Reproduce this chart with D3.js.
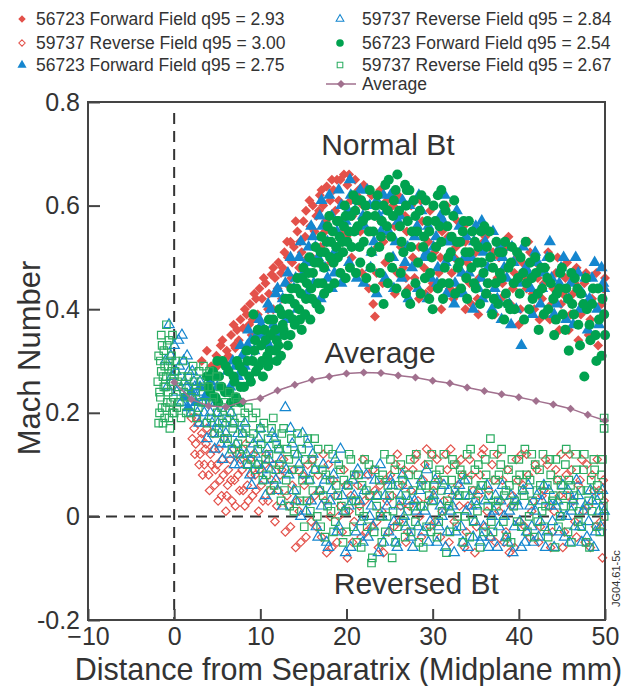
<!DOCTYPE html>
<html><head><meta charset="utf-8">
<script src="https://cdn.jsdelivr.net/npm/d3@7"></script>
<style>
body{margin:0;background:#fff;}
svg text{font-family:"Liberation Sans",Arial,Helvetica,sans-serif;fill:#333;}
</style></head>
<body><svg id="c" width="628" height="686"></svg>
<script>
// ---------- DATA ----------
const xTicks = [-10, 0, 10, 20, 30, 40, 50];
const yTicks = [-0.2, 0, 0.2, 0.4, 0.6, 0.8];
const yTickLabels = ["-0.2", "0", "0.2", "0.4", "0.6", "0.8"];

const seriesNames = [
  "56723 Forward Field q95 = 2.93",
  "59737 Reverse Field q95 = 3.00",
  "56723 Forward Field q95 = 2.75",
  "59737 Reverse Field q95 = 2.84",
  "56723 Forward Field q95 = 2.54",
  "59737 Reverse Field q95 = 2.67",
  "Average"
];

// 56723 Forward Field q95 = 2.93 (filled red diamond)
const fwd293a = [[3.2,.30],[3.8,.32],[4.3,.29],[4.9,.31],[5.4,.33],[5.8,.30],[6.1,.32],[6.6,.35],[7.0,.33],[7.1,.325],[7.3,.36],[7.7,.38],[8.0,.363],[8.4,.39],[8.8,.41],[9.1,.38],[9.5,.42],[9.9,.44],[10.2,.42],[10.6,.45],[11.0,.43],[11.3,.467],[11.7,.46],[12.1,.49],[12.4,.47],[12.8,.51],[13.2,.50],[13.5,.53],[13.9,.52],[14.3,.55],[14.6,.53],[15.0,.57],[15.3,.59],[15.8,.56],[16.1,.60],[16.5,.58],[16.9,.62],[17.3,.60],[17.7,.637],[18.1,.61],[18.5,.63],[18.9,.65],[19.3,.65],[19.7,.66],[20.1,.64],[20.5,.61],[21.0,.65],[21.4,.63],[21.9,.60],[9.0,.35],[11.5,.40],[13.0,.45],[15.5,.50],[17.5,.55],[19.0,.57],[20.0,.54],[22.3,.58],[22.8,.55],[23.1,.41],[23.3,.386],[23.6,.52],[24.0,.57],[24.5,.49],[25.0,.54],[25.4,.60],[25.9,.47],[26.3,.52],[26.8,.58],[27.2,.44],[27.7,.50],[28.1,.55],[28.6,.61],[29.0,.48],[29.5,.53],[30.0,.45],[30.4,.57],[30.9,.50],[31.3,.42],[31.8,.54],[32.2,.47],[32.7,.52],[33.1,.44],[33.6,.56],[34.0,.49],[34.5,.41],[35.0,.51],[35.4,.46],[35.9,.53],[36.3,.43],[36.8,.48],[37.2,.39],[37.7,.50],[38.1,.45],[38.6,.52],[39.0,.41],[39.5,.47],[40.0,.37],[40.4,.49],[40.9,.44],[41.3,.51],[41.8,.40],[42.2,.46],[42.7,.42],[43.1,.48],[43.6,.38],[44.0,.44],[44.5,.50],[44.9,.41],[45.4,.46],[45.8,.36],[46.3,.43],[46.7,.48],[47.2,.39],[47.6,.45],[48.1,.35],[48.5,.42],[49.0,.47],[49.4,.38],[49.8,.44]];
const fwd293b = [[5.0,.29],[5.6,.34],[6.3,.31],[6.9,.37],[7.5,.34],[8.2,.40],[8.7,.37],[9.3,.43],[9.7,.39],[10.4,.46],[10.9,.40],[11.5,.48],[12.0,.44],[12.6,.48],[13.1,.53],[13.7,.49],[14.1,.57],[14.8,.51],[15.2,.54],[15.7,.61],[16.3,.55],[16.8,.59],[17.1,.63],[17.6,.57],[18.3,.65],[18.7,.59],[19.1,.61],[19.5,.55],[20.3,.66],[20.7,.58],[21.2,.62],[21.6,.55],[22.0,.64],[22.5,.60],[22.9,.62],[23.5,.47],[23.9,.63],[24.3,.53],[24.7,.61],[25.2,.50],[25.6,.56],[26.0,.62],[26.6,.48],[27.0,.55],[27.5,.60],[27.9,.46],[28.4,.52],[28.8,.57],[29.2,.43],[29.7,.59],[30.2,.51],[30.7,.47],[31.1,.55],[31.6,.60],[32.0,.44],[32.5,.50],[32.9,.57],[33.4,.47],[33.8,.53],[34.3,.45],[34.7,.55],[35.2,.42],[35.7,.49],[36.1,.54],[36.6,.45],[37.0,.51],[37.5,.46],[37.9,.42],[38.4,.48],[38.8,.54],[39.3,.44],[39.8,.50],[40.2,.40],[40.7,.46],[41.1,.53],[41.6,.43],[42.0,.49],[42.4,.38],[42.9,.45],[43.4,.51],[43.8,.41],[44.3,.47],[44.7,.36],[45.1,.43],[45.6,.49],[46.0,.39],[46.5,.45],[46.9,.34],[47.4,.41],[47.8,.47],[48.3,.38],[48.7,.44],[49.2,.33],[49.6,.41],[50.0,.46]];
const fwd293c = [[12.5,.42],[13.6,.46],[14.5,.48],[16.0,.50],[17.0,.52],[18.2,.49],[19.5,.51],[20.6,.50],[21.8,.47],[22.6,.44],[24.2,.45],[25.6,.43],[26.9,.46],[28.4,.42],[29.8,.44],[31.0,.40],[32.4,.42],[33.8,.40],[35.3,.39]];

// 59737 Reverse Field q95 = 3.00 (open red diamond)
const rev300a = [[2.0,.19],[2.3,.17],[2.5,.14],[2.8,.18],[3.0,.12],[3.2,.16],[3.5,.10],[3.7,.14],[4.0,.08],[4.2,.12],[4.5,.16],[4.7,.06],[5.0,.10],[5.2,.13],[5.5,.04],[5.7,.08],[6.0,.01],[6.2,.06],[6.5,.11],[6.7,.03],[7.0,.07],[7.3,.12],[7.6,.05],[7.9,.09],[8.2,.02],[8.5,.06],[8.8,.11],[9.1,.04],[9.4,.08],[9.8,.01],[10.1,.06],[10.5,.10],[10.9,.03],[11.3,.07],[11.7,-.01],[12.1,.05],[12.5,.09],[12.9,-.03],[13.3,.02],[13.7,.06],[14.1,-.06],[14.5,.01],[14.9,.08],[15.3,-.04],[15.7,.03],[16.1,.11],[16.5,-.02],[16.9,.05],[17.3,.12],[17.7,-.07],[18.1,.00],[18.5,.07],[18.9,-.05],[19.3,.02],[19.7,.09],[20.1,-.08],[20.5,.04],[20.9,-.01],[21.3,.06],[21.7,-.04],[22.1,.03],[22.5,.08],[22.9,-.02],[23.3,.05],[23.7,-.06],[24.1,.01],[24.5,.07],[24.9,-.03],[25.3,.04],[25.7,.10],[26.1,-.01],[26.5,.06],[26.9,-.05],[27.3,.02],[27.7,.09],[28.1,.12],[28.5,.00],[28.9,.07],[29.3,.13],[29.7,-.02],[30.1,.05],[30.5,.11],[30.9,-.04],[31.3,.03],[31.7,.09],[32.1,.13],[32.5,-.01],[32.9,.06],[33.3,.11],[33.7,-.06],[34.1,.02],[34.5,.08],[34.9,-.07],[35.3,.04],[35.7,.12],[36.1,-.02],[36.5,.05],[36.9,.10],[37.3,-.05],[37.7,.01],[38.1,.07],[38.5,-.03],[38.9,-.07],[39.3,.04],[39.7,.11],[40.1,-.01],[40.5,.06],[40.9,.12],[41.3,-.04],[41.7,.03],[42.1,.09],[42.5,-.02],[42.9,.05],[43.3,.10],[43.7,-.06],[44.1,.01],[44.5,.07],[44.9,.12],[45.3,-.03],[45.7,.04],[46.1,.09],[46.5,-.01],[46.9,.06],[47.3,.11],[47.7,-.05],[48.1,.02],[48.5,.08],[48.9,-.02],[49.3,.05],[49.7,-.08],[49.9,.03]];
const rev300b = [[2.1,.15],[2.4,.12],[2.6,.19],[2.9,.10],[3.1,.15],[3.3,.08],[3.6,.13],[3.8,.17],[4.1,.05],[4.3,.10],[4.6,.13],[4.8,.09],[5.1,.03],[5.3,.07],[5.6,.11],[5.8,.15],[6.1,.04],[6.3,.09],[6.6,.07],[6.9,.13],[7.1,.02],[7.4,.08],[7.7,.11],[8.0,.05],[8.3,.14],[8.6,.03],[8.9,.08],[9.2,.12],[9.5,.05],[9.9,.09],[10.3,.03],[10.7,.12],[11.1,.05],[11.5,.10],[11.9,.02],[12.3,.08],[12.7,.11],[13.1,.04],[13.5,-.02],[13.9,.09],[14.3,.03],[14.7,-.05],[15.1,.06],[15.5,.10],[15.9,-.01],[16.3,.04],[16.7,.08],[17.1,-.04],[17.5,.03],[17.9,.10],[18.3,-.06],[18.7,.04],[19.1,.00],[19.5,-.03],[19.9,.06],[20.3,.01],[20.7,-.05],[21.1,.08],[21.5,.02],[21.9,.11],[22.3,-.03],[22.7,.04],[23.1,.09],[23.5,-.01],[23.9,.06],[24.3,-.07],[24.7,.03],[25.1,.08],[25.5,-.02],[25.9,.12],[26.3,.02],[26.7,.09],[27.1,-.03],[27.5,.05],[27.9,.11],[28.3,.03],[28.7,-.04],[29.1,.10],[29.5,.03],[29.9,.12],[30.3,-.01],[30.7,.07],[31.1,.01],[31.5,.12],[31.9,-.05],[32.3,.04],[32.7,.10],[33.1,.02],[33.5,.08],[33.9,-.03],[34.3,.11],[34.7,.05],[35.1,-.02],[35.5,.08],[35.9,.13],[36.3,.01],[36.7,-.04],[37.1,.07],[37.5,.12],[37.9,.03],[38.3,-.05],[38.7,.09],[39.1,.02],[39.5,-.06],[39.9,.07],[40.3,.12],[40.7,-.02],[41.1,.08],[41.5,.01],[41.9,.10],[42.3,-.05],[42.7,.04],[43.1,.11],[43.5,.02],[43.9,-.03],[44.3,.09],[44.7,.04],[45.1,-.06],[45.5,.08],[45.9,.12],[46.3,.03],[46.7,-.04],[47.1,.07],[47.5,.01],[47.9,.10],[48.3,-.06],[48.7,.05],[49.1,.11],[49.5,-.01],[49.8,.07]];

// 56723 Forward Field q95 = 2.75 (filled blue triangle)
const fwd275a = [[1.2,.23],[1.6,.21],[2.0,.24],[2.5,.22],[3.0,.25],[3.6,.23],[4.2,.26],[5.0,.25],[6.2,.28],[6.8,.30],[7.4,.27],[7.9,.31],[8.5,.33],[8.6,.36],[9.0,.30],[9.6,.35],[10.1,.37],[10.7,.34],[11.2,.40],[11.8,.43],[12.3,.40],[12.9,.45],[13.2,.47],[13.9,.44],[14.5,.50],[15.0,.47],[15.6,.52],[16.1,.54],[16.7,.50],[17.1,.61],[17.2,.56],[17.8,.53],[18.3,.44],[18.3,.58],[18.9,.55],[19.4,.60],[19.9,.57],[20.4,.65],[20.5,.62],[21.0,.59],[21.6,.63],[22.1,.56],[22.7,.60],[23.2,.53],[23.8,.58],[24.3,.62],[24.9,.55],[25.4,.50],[26.0,.57],[26.5,.61],[27.1,.52],[27.6,.48],[28.2,.56],[28.7,.59],[29.3,.51],[29.8,.46],[30.4,.54],[30.9,.58],[31.4,.62],[31.5,.49],[32.0,.53],[32.6,.45],[33.1,.56],[33.7,.50],[34.2,.47],[34.8,.53],[35.3,.44],[35.7,.57],[35.9,.51],[36.4,.48],[37.0,.55],[37.5,.42],[38.1,.50],[38.6,.46],[39.2,.52],[39.7,.40],[40.3,.33],[40.8,.48],[41.4,.44],[41.9,.51],[42.5,.41],[43.0,.47],[43.6,.53],[44.1,.39],[44.7,.45],[45.2,.50],[45.8,.42],[46.3,.37],[46.9,.47],[47.4,.43],[48.0,.36],[48.5,.46],[49.1,.40],[49.6,.48],[49.9,.44]];
const fwd275b = [[6.5,.25],[7.1,.29],[7.7,.33],[8.2,.29],[8.9,.34],[9.3,.32],[9.9,.38],[10.4,.35],[10.9,.41],[11.5,.37],[12.0,.44],[12.6,.42],[13.5,.50],[14.1,.46],[14.7,.53],[15.3,.49],[15.9,.56],[16.4,.52],[16.9,.58],[17.5,.48],[18.0,.62],[18.6,.51],[19.1,.63],[19.7,.53],[20.2,.59],[20.8,.55],[21.3,.61],[21.9,.58],[22.4,.63],[22.9,.51],[23.5,.61],[24.0,.55],[24.6,.59],[25.1,.62],[25.7,.53],[26.2,.58],[26.8,.49],[27.3,.60],[27.9,.54],[28.4,.62],[29.0,.50],[29.5,.56],[30.1,.52],[30.6,.48],[31.2,.57],[31.7,.53],[32.3,.50],[32.8,.59],[33.4,.47],[33.9,.54],[34.5,.50],[35.0,.56],[35.6,.46],[36.1,.53],[36.7,.50],[37.2,.44],[37.8,.52],[38.3,.48],[38.9,.41],[39.4,.49],[40.0,.45],[40.5,.52],[41.1,.47],[41.6,.39],[42.2,.49],[42.7,.44],[43.3,.50],[43.8,.46],[44.4,.41],[44.9,.48],[45.5,.38],[46.0,.45],[46.6,.50],[47.1,.40],[47.7,.46],[48.2,.42],[48.8,.49],[49.3,.37],[49.8,.45]];
const fwd275c = [[11.0,.33],[12.2,.35],[13.0,.38],[14.3,.40],[15.4,.43],[16.2,.45],[17.0,.42],[17.8,.46],[18.6,.47],[19.4,.45],[20.3,.49],[21.2,.46],[22.0,.45],[22.8,.48],[23.5,.43],[24.5,.46],[25.5,.44],[26.4,.46],[27.2,.42],[28.3,.44],[29.4,.42],[30.5,.45],[31.6,.43],[32.5,.41],[33.6,.43],[34.7,.40],[35.8,.42],[36.9,.40],[38.0,.38],[39.1,.37]];

// 59737 Reverse Field q95 = 2.84 (open blue triangle)
const rev284a = [[-1.0,.30],[-0.6,.37],[-0.3,.27],[0.0,.33],[0.3,.24],[0.6,.29],[0.9,.35],[1.2,.26],[1.5,.31],[1.8,.22],[2.1,.28],[2.4,.25],[2.7,.20],[3.0,.26],[3.3,.22],[3.6,.18],[3.9,.24],[4.2,.20],[4.5,.16],[4.8,.22],[5.1,.18],[5.4,.14],[5.7,.20],[6.0,.16],[6.4,.12],[6.8,.18],[7.2,.14],[7.6,.10],[8.0,.16],[8.4,.12],[8.8,.08],[9.2,.14],[9.6,.10],[10.0,.17],[10.4,.07],[10.8,.13],[11.2,.09],[11.6,.15],[12.0,.05],[12.4,.11],[12.9,.21],[13.3,.08],[13.7,.14],[14.1,.03],[14.5,.10],[14.9,.16],[15.3,.01],[15.7,.07],[16.1,.12],[16.5,-.02],[16.9,.05],[17.3,.10],[17.7,-.05],[18.1,.03],[18.5,.08],[18.9,-.03],[19.3,.13],[19.7,.01],[20.1,.06],[20.5,-.06],[20.9,.04],[21.3,.09],[21.7,-.01],[22.1,.05],[22.5,-.04],[22.9,.02],[23.3,.07],[23.7,-.07],[24.1,.00],[24.5,.04],[24.9,-.03],[25.3,.06],[25.7,-.05],[26.1,.02],[26.5,.08],[26.9,-.02],[27.3,.03],[27.7,-.06],[28.1,.01],[28.5,.05],[28.9,-.03],[29.3,.09],[29.7,-.01],[30.1,.04],[30.5,-.05],[30.9,.02],[31.3,.06],[31.7,-.03],[32.1,.01],[32.5,-.07],[32.9,.04],[33.3,-.02],[33.7,.07],[34.1,-.06],[34.5,.02],[34.9,-.01],[35.5,-.05],[35.3,.05],[35.7,-.04],[36.1,.03],[36.5,-.06],[36.9,.00],[37.3,.04],[37.7,-.02],[38.1,.06],[38.5,-.04],[38.9,.01],[39.3,-.07],[39.7,.03],[40.1,-.01],[40.5,.05],[40.7,-.05],[40.9,-.03],[41.3,.02],[41.7,-.05],[42.1,.04],[42.5,-.01],[42.9,.06],[43.3,-.03],[43.7,.02],[44.1,-.06],[44.5,.03],[44.9,.00],[45.3,-.04],[45.7,.05],[46.1,.01],[46.5,-.02],[46.9,.04],[47.3,-.05],[47.7,.02],[48.1,-.01],[48.5,.03],[48.9,-.03],[49.3,.01],[49.7,.05]];
const rev284b = [[-0.8,.25],[-0.4,.31],[0.2,.28],[0.5,.34],[0.8,.22],[1.1,.30],[1.4,.25],[1.7,.28],[2.0,.20],[2.3,.26],[2.6,.23],[2.9,.18],[3.2,.24],[3.5,.20],[3.8,.15],[4.1,.22],[4.4,.18],[4.7,.13],[5.0,.20],[5.3,.16],[5.6,.11],[5.9,.18],[6.2,.14],[6.6,.20],[7.0,.10],[7.4,.16],[7.8,.12],[8.2,.18],[8.6,.10],[9.0,.06],[9.4,.12],[9.8,.15],[10.2,.09],[10.6,.04],[11.0,.11],[11.4,.16],[11.8,.07],[12.2,.13],[12.6,.02],[13.0,.09],[13.5,.17],[13.9,.05],[14.3,.12],[14.7,.00],[15.1,.08],[15.5,.14],[15.9,.03],[16.3,.09],[16.7,-.04],[17.1,.02],[17.5,.07],[17.9,-.06],[18.3,.05],[18.7,.11],[19.1,-.02],[19.5,.04],[19.9,-.07],[20.3,.02],[20.7,.07],[21.1,-.03],[21.5,.03],[21.9,-.05],[22.3,.08],[22.7,.00],[23.1,-.02],[23.5,.04],[23.9,.10],[24.3,-.05],[24.7,.02],[25.1,.07],[25.5,-.01],[25.9,-.06],[26.3,.04],[26.7,.00],[27.1,.06],[27.5,-.04],[27.9,.03],[28.3,-.02],[28.7,.07],[29.1,.01],[29.5,-.05],[29.9,.03],[30.3,.07],[30.7,-.02],[31.1,.00],[31.5,-.06],[31.9,.05],[32.3,.02],[32.7,-.03],[33.1,.06],[33.5,-.05],[33.9,.01],[34.3,.04],[34.7,-.04],[35.1,.02],[35.9,-.02],[36.3,.06],[36.7,-.04],[37.1,.01],[37.5,-.06],[37.9,.03],[38.3,.00],[38.7,-.05],[39.1,.04],[39.5,-.02],[39.9,.02],[40.3,-.06],[41.1,.06],[41.5,-.02],[41.9,.01],[42.3,-.04],[42.7,.03],[43.1,-.06],[43.5,.05],[43.9,-.01],[44.3,.02],[44.7,-.03],[45.1,.06],[45.5,.00],[45.9,-.05],[46.3,.03],[46.7,.07],[47.1,-.02],[47.5,.01],[47.9,-.04],[48.3,.05],[48.7,-.06],[49.1,.03],[49.5,-.02],[49.9,.01]];

// 56723 Forward Field q95 = 2.54 (filled green circle)
const fwd254a = [[3.8,.27],[4.0,.25],[4.5,.28],[4.8,.23],[5.0,.30],[5.2,.27],[5.6,.30],[5.9,.24],[6.3,.28],[6.6,.22],[7.0,.26],[7.3,.30],[7.7,.25],[7.7,.22],[8.0,.28],[8.4,.32],[8.7,.27],[9.1,.30],[9.2,.39],[9.4,.34],[9.8,.29],[10.1,.33],[10.5,.36],[10.8,.31],[10.9,.29],[11.0,.38],[11.2,.35],[11.5,.38],[11.9,.30],[11.9,.34],[12.2,.40],[12.6,.37],[12.9,.42],[13.2,.33],[13.3,.39],[13.6,.44],[14.0,.41],[14.3,.46],[14.6,.38],[14.7,.43],[15.0,.48],[15.4,.45],[15.7,.50],[16.0,.42],[16.1,.47],[16.4,.52],[16.8,.49],[17.1,.54],[17.2,.45],[17.5,.51],[17.8,.56],[18.0,.58],[18.2,.53],[18.5,.49],[18.9,.57],[19.0,.50],[19.2,.54],[19.6,.51],[19.8,.60],[19.9,.58],[20.3,.55],[20.6,.52],[20.8,.62],[21.0,.59],[21.3,.56],[21.7,.61],[22.0,.53],[22.4,.58],[22.7,.63],[23.1,.55],[23.4,.60],[23.8,.52],[24.1,.57],[24.5,.64],[24.8,.59],[24.9,.65],[25.2,.54],[25.5,.61],[25.9,.66],[26.2,.56],[26.6,.51],[26.9,.60],[27.0,.63],[27.3,.63],[27.6,.55],[28.0,.58],[28.3,.49],[28.7,.62],[29.0,.54],[29.4,.57],[29.7,.47],[30.1,.60],[30.4,.52],[30.8,.56],[31.0,.63],[31.1,.45],[31.3,.60],[31.5,.59],[31.8,.50],[32.2,.54],[32.5,.61],[32.9,.48],[33.2,.53],[33.6,.57],[33.9,.46],[34.3,.51],[34.6,.55],[35.0,.44],[35.3,.52],[35.7,.49],[36.0,.56],[36.4,.45],[36.7,.50],[37.1,.42],[37.4,.53],[37.8,.47],[38.1,.51],[38.5,.43],[38.8,.48],[39.2,.52],[39.5,.40],[39.9,.46],[40.2,.50],[40.6,.38],[40.9,.45],[41.3,.49],[41.6,.42],[42.0,.47],[42.3,.36],[42.7,.44],[43.0,.48],[43.4,.40],[43.7,.45],[44.1,.35],[44.4,.43],[44.8,.47],[45.1,.39],[45.5,.44],[45.8,.32],[46.2,.41],[46.5,.46],[46.9,.37],[47.2,.43],[47.6,.27],[47.9,.40],[48.3,.34],[48.6,.44],[49.0,.30],[49.3,.38],[49.7,.42],[50.0,.35]];
const fwd254b = [[4.2,.24],[4.6,.27],[5.1,.22],[5.5,.25],[6.0,.29],[6.4,.24],[6.9,.27],[7.2,.23],[7.6,.29],[8.1,.25],[8.5,.30],[8.9,.26],[9.3,.32],[9.7,.36],[10.2,.30],[10.6,.34],[11.1,.32],[11.7,.36],[12.1,.33],[12.5,.39],[12.8,.35],[13.4,.42],[13.8,.38],[14.2,.44],[14.5,.40],[14.9,.46],[15.3,.42],[15.6,.47],[15.9,.44],[16.3,.49],[16.7,.45],[17.0,.51],[17.4,.48],[17.7,.53],[18.1,.50],[18.4,.55],[18.8,.52],[19.1,.57],[19.5,.53],[19.7,.56],[20.1,.53],[20.5,.58],[20.9,.55],[21.2,.61],[21.5,.52],[21.9,.57],[22.2,.60],[22.6,.55],[22.9,.51],[23.3,.58],[23.6,.62],[24.0,.54],[24.3,.60],[24.7,.56],[25.0,.50],[25.4,.58],[25.7,.63],[26.1,.59],[26.4,.53],[26.8,.64],[27.1,.57],[27.5,.52],[27.8,.61],[28.2,.55],[28.5,.59],[28.9,.52],[29.2,.61],[29.6,.55],[29.9,.50],[30.3,.57],[30.6,.62],[31.0,.53],[31.4,.48],[31.7,.56],[32.1,.51],[32.4,.58],[32.8,.53],[33.1,.49],[33.5,.55],[33.8,.51],[34.2,.57],[34.5,.48],[34.9,.53],[35.2,.49],[35.6,.55],[35.9,.47],[36.3,.52],[36.6,.55],[37.0,.48],[37.3,.45],[37.7,.51],[38.0,.46],[38.4,.53],[38.7,.41],[39.1,.49],[39.4,.45],[39.8,.51],[40.1,.43],[40.5,.47],[40.8,.53],[41.2,.40],[41.5,.46],[41.9,.50],[42.2,.43],[42.6,.48],[42.9,.39],[43.3,.46],[43.6,.50],[44.0,.42],[44.3,.38],[44.7,.44],[45.0,.48],[45.4,.36],[45.7,.42],[46.1,.47],[46.4,.39],[46.8,.44],[47.1,.33],[47.5,.41],[47.8,.46],[48.2,.37],[48.5,.41],[48.9,.35],[49.2,.44],[49.6,.31],[49.9,.39]];
const fwd254c = [[9.5,.28],[10.3,.27],[11.0,.30],[11.8,.32],[12.4,.31],[12.7,.36],[13.5,.35],[14.0,.37],[14.8,.36],[15.2,.39],[15.8,.38],[16.5,.41],[16.9,.40],[17.4,.43],[17.9,.44],[18.6,.45],[19.3,.47],[19.9,.46],[20.4,.48],[21.1,.47],[21.6,.49],[22.3,.46],[22.8,.48],[23.3,.44],[23.9,.47],[24.3,.41],[24.8,.45],[25.3,.48],[25.8,.44],[26.3,.47],[26.9,.43],[27.4,.41],[28.0,.45],[28.6,.43],[29.1,.46],[29.6,.42],[30.0,.40],[30.6,.44],[31.2,.42],[31.9,.45],[32.6,.43],[33.3,.44],[34.0,.42],[34.8,.45],[35.5,.41],[36.2,.43],[36.9,.39],[37.6,.41],[38.3,.38],[39.0,.40]];

// 59737 Reverse Field q95 = 2.67 (open green square)
const rev267a = [[-1.8,.18],[-1.7,.24],[-1.6,.30],[-1.5,.35],[-1.4,.21],[-1.3,.27],[-1.2,.32],[-1.1,.19],[-1.0,.25],[-0.9,.37],[-0.8,.22],[-0.7,.29],[-0.6,.34],[-0.5,.17],[-0.4,.26],[-0.3,.31],[-0.2,.20],[-0.1,.23],[0.1,.28],[0.3,.21],[0.5,.25],[0.8,.19],[1.0,.30],[1.3,.23],[1.6,.27],[1.9,.20],[2.2,.29],[2.5,.24],[2.8,.21],[3.1,.26],[3.4,.29],[3.7,.22],[4.0,.25],[4.3,.19],[4.6,.23],[4.9,.27],[5.2,.17],[5.5,.21],[5.8,.15],[6.1,.19],[6.4,.24],[6.7,.13],[7.0,.18],[7.3,.22],[7.6,.12],[7.9,.16],[8.2,.20],[8.5,.10],[8.8,.15],[9.1,.19],[9.4,.09],[9.7,.13],[10.0,.17],[10.3,.07],[10.6,.11],[10.9,.15],[11.2,.05],[11.5,.19],[11.8,.09],[12.1,.13],[12.4,.03],[12.7,.17],[13.0,.07],[13.3,.11],[13.6,.15],[13.9,.01],[14.2,.05],[14.5,.09],[14.8,.13],[15.1,-.02],[15.4,.03],[15.7,.07],[16.0,.11],[16.3,.15],[16.6,.00],[16.9,.05],[17.2,.09],[17.5,-.04],[17.8,.02],[18.1,.07],[18.4,.12],[18.7,-.01],[19.0,.04],[19.3,.09],[19.6,-.05],[19.9,.01],[20.2,.06],[20.5,.11],[20.8,-.02],[21.1,.03],[21.4,.08],[21.7,-.06],[22.0,.00],[22.3,.05],[22.6,.10],[22.9,-.09],[23.2,-.03],[23.5,.02],[23.8,.07],[24.1,-.05],[24.4,.12],[24.7,.00],[25.0,.04],[25.3,-.08],[25.6,.09],[25.9,-.02],[26.2,.03],[26.5,.07],[26.8,-.04],[27.1,.01],[27.4,.11],[27.7,.05],[28.0,-.01],[28.3,.08],[28.6,.02],[28.9,-.06],[29.2,.06],[29.5,.10],[29.8,-.03],[30.1,.03],[30.4,.08],[30.7,-.01],[31.0,.05],[31.3,.12],[31.6,-.07],[31.9,.02],[32.2,.07],[32.5,.10],[32.8,-.02],[33.1,.04],[33.4,.08],[33.7,.00],[34.0,.12],[34.3,-.04],[34.6,.05],[34.9,.09],[35.2,.01],[35.5,-.06],[35.8,.06],[36.1,.11],[36.4,.02],[36.7,.15],[37.0,-.03],[37.3,.07],[37.6,.03],[37.9,.10],[38.2,-.01],[38.5,.05],[38.8,.09],[39.1,-.05],[39.4,.02],[39.7,.07],[40.0,.11],[40.3,-.02],[40.6,.04],[40.9,.08],[41.2,.00],[41.5,.12],[41.8,-.04],[42.1,.05],[42.4,.09],[42.7,.01],[43.0,-.02],[43.3,.06],[43.6,.11],[43.9,.03],[44.2,-.06],[44.5,.07],[44.8,.00],[45.1,.04],[45.4,.10],[45.7,-.03],[46.0,.06],[46.3,.02],[46.6,.12],[46.9,-.01],[47.2,.05],[47.5,.09],[47.8,-.05],[48.1,.03],[48.4,.07],[48.7,.11],[49.0,-.02],[49.3,.04],[49.6,.08],[49.9,.17],[49.9,.19],[49.8,.02]];
const rev267b = [[-1.9,.26],[-1.8,.31],[-1.7,.20],[-1.6,.23],[-1.5,.28],[-1.4,.33],[-1.3,.18],[-1.2,.25],[-1.1,.29],[-1.0,.21],[-0.9,.27],[-0.8,.33],[-0.7,.24],[-0.6,.19],[-0.5,.30],[-0.4,.22],[-0.3,.28],[-0.2,.35],[-0.1,.26],[0.0,.20],[0.2,.30],[0.4,.26],[0.6,.22],[0.9,.27],[1.1,.24],[1.4,.20],[1.7,.25],[2.0,.23],[2.3,.26],[2.6,.19],[2.9,.28],[3.2,.22],[3.5,.25],[3.8,.18],[4.1,.28],[4.4,.22],[4.7,.16],[5.0,.20],[5.3,.25],[5.6,.18],[5.9,.22],[6.2,.15],[6.5,.20],[6.8,.17],[7.1,.23],[7.4,.14],[7.7,.19],[8.0,.13],[8.3,.17],[8.6,.21],[8.9,.11],[9.2,.16],[9.5,.20],[9.8,.10],[10.1,.14],[10.4,.18],[10.7,.08],[11.0,.12],[11.3,.17],[11.6,.06],[11.9,.14],[12.2,.10],[12.5,.16],[12.8,.05],[13.1,.13],[13.4,.02],[13.7,.09],[14.0,.12],[14.3,.16],[14.6,.03],[14.9,.07],[15.2,.11],[15.5,.15],[15.8,.01],[16.1,.05],[16.4,.09],[16.7,.13],[17.0,-.02],[17.3,.04],[17.6,.08],[17.9,.13],[18.2,.01],[18.5,-.03],[18.8,.06],[19.1,.10],[19.4,.02],[19.7,.07],[20.0,-.03],[20.3,.12],[20.6,.03],[20.9,.08],[21.2,-.05],[21.5,.01],[21.8,.06],[22.1,.11],[22.4,-.02],[22.7,.04],[23.0,-.08],[23.3,.09],[23.6,.04],[23.9,.00],[24.2,.08],[24.5,-.03],[24.8,.06],[25.1,.11],[25.4,.01],[25.7,-.05],[26.0,.06],[26.3,.10],[26.6,-.01],[26.9,.04],[27.2,.08],[27.5,-.03],[27.8,.02],[28.1,.12],[28.4,-.05],[28.7,.06],[29.0,.02],[29.3,-.02],[29.6,.04],[29.9,.12],[30.2,.06],[30.5,-.04],[30.8,.09],[31.1,.01],[31.4,.07],[31.7,.03],[32.0,-.03],[32.3,.11],[32.6,.05],[32.9,.00],[33.2,.09],[33.5,-.05],[33.8,.04],[34.1,.07],[34.4,.13],[34.7,-.01],[35.0,.03],[35.3,.10],[35.6,.06],[35.9,-.03],[36.2,.08],[36.5,.04],[36.8,-.01],[37.1,.12],[37.4,.02],[37.7,.08],[38.0,.13],[38.3,.04],[38.6,-.04],[38.9,.06],[39.2,.11],[39.5,.03],[39.8,-.01],[40.1,.08],[40.4,.05],[40.7,.13],[41.0,-.03],[41.3,.07],[41.6,.03],[41.9,.10],[42.2,-.01],[42.5,.06],[42.8,.12],[43.1,.02],[43.4,-.04],[43.7,.08],[44.0,.04],[44.3,.11],[44.6,-.02],[44.9,.06],[45.2,.02],[45.5,.13],[45.8,.07],[46.1,-.05],[46.4,.04],[46.7,.09],[47.0,.01],[47.3,-.02],[47.6,.12],[47.9,.05],[48.2,-.06],[48.5,.01],[48.8,.09],[49.1,.06],[49.4,-.03],[49.7,.11],[49.9,.00]];

// Average
const avgX = [0,2,4,6,8,10,12,14,16,18,20,22,24,26,28,30,32,34,36,38,40,42,44,46,48,50];
const avgY = [0.259,0.226,0.213,0.211,0.222,0.228,0.243,0.254,0.264,0.270,0.276,0.278,0.277,0.272,0.268,0.262,0.257,0.249,0.242,0.236,0.230,0.223,0.216,0.208,0.196,0.185];

// ---------- CHART ----------
const svg = d3.select("#c");
const L = 88, R = 605, T = 102, B = 620;
const x = d3.scaleLinear().domain([-10, 50]).range([L, R]);
const y = d3.scaleLinear().domain([-0.2, 0.8]).range([B, T]);

const RED = "#e3514a", BLUE = "#1586cf", GREEN = "#00a24f", GREEN2 = "#2cad62", AVG = "#a1708e";

const diamondPath = r => `M0,${-r}L${r},0L0,${r}L${-r},0Z`;
const shapes = {
  fdia: {d: diamondPath(5.0), fill: RED, stroke: "none"},
  odia: {d: diamondPath(4.2), fill: "none", stroke: RED},
  ftri: {d: d3.symbol(d3.symbolTriangle, 64)(), fill: BLUE, stroke: "none"},
  otri: {d: d3.symbol(d3.symbolTriangle, 46)(), fill: "none", stroke: BLUE},
  fcir: {d: d3.symbol(d3.symbolCircle, 80)(), fill: GREEN, stroke: "none"},
  osq:  {d: d3.symbol(d3.symbolSquare, 56)(), fill: "none", stroke: GREEN2}
};

// dashed reference lines
svg.append("line").attr("x1", x(0)).attr("x2", x(0)).attr("y1", T + 11).attr("y2", B)
  .attr("stroke", "#333").attr("stroke-width", 2).attr("stroke-dasharray", "11,7");
svg.append("line").attr("x1", L).attr("x2", R).attr("y1", y(0)).attr("y2", y(0))
  .attr("stroke", "#333").attr("stroke-width", 2).attr("stroke-dasharray", "11,7");

const series = [
  {data: fwd293a.concat(fwd293b, fwd293c), shape: "fdia"},
  {data: rev300a.concat(rev300b), shape: "odia"},
  {data: fwd275a.concat(fwd275b, fwd275c), shape: "ftri"},
  {data: rev284a.concat(rev284b), shape: "otri"},
  {data: fwd254a.concat(fwd254b, fwd254c), shape: "fcir"},
  {data: rev267a.concat(rev267b), shape: "osq"}
];
series.forEach(s => {
  const sh = shapes[s.shape];
  svg.append("g").selectAll("path").data(s.data).join("path")
    .attr("d", sh.d)
    .attr("transform", d => `translate(${x(d[0])},${y(d[1])})`)
    .attr("fill", sh.fill).attr("stroke", sh.stroke).attr("stroke-width", 1.2);
});

// average
const avg = avgX.map((v, i) => [v, avgY[i]]);
svg.append("path").datum(avg)
  .attr("d", d3.line().x(d => x(d[0])).y(d => y(d[1])))
  .attr("fill", "none").attr("stroke", AVG).attr("stroke-width", 1.5);
svg.append("g").selectAll("path").data(avg).join("path")
  .attr("d", diamondPath(4))
  .attr("transform", d => `translate(${x(d[0])},${y(d[1])})`)
  .attr("fill", AVG);

// axes
const xAxis = d3.axisBottom(x).tickValues(xTicks).tickSize(-11).tickPadding(7).tickFormat(d3.format("d"));
const gx = svg.append("g").attr("transform", `translate(0,${B})`).call(xAxis);
const yAxis = d3.axisLeft(y).tickValues(yTicks).tickSize(-12).tickPadding(8).tickFormat((d, i) => yTickLabels[i]);
const gy = svg.append("g").attr("transform", `translate(${L},0)`).call(yAxis);
[gx, gy].forEach(g => {
  g.select(".domain").remove();
  g.selectAll(".tick line").attr("stroke", "#444").attr("stroke-width", 2);
  g.selectAll(".tick text").attr("font-size", 25).attr("fill", "#333")
    .style("font-family", '"Liberation Sans", Arial, sans-serif');
});

// frame
svg.append("rect").attr("x", L).attr("y", T).attr("width", R - L).attr("height", B - T)
  .attr("fill", "none").attr("stroke", "#444").attr("stroke-width", 2);

// titles
svg.append("text").attr("x", (L + R) / 2 + 2).attr("y", 680).attr("text-anchor", "middle")
  .attr("font-size", 30.5).text("Distance from Separatrix (Midplane mm)");
svg.append("text").attr("transform", `translate(40,${(T + B) / 2 - 3}) rotate(-90)`)
  .attr("text-anchor", "middle").attr("font-size", 31).text("Mach Number");

// annotations
svg.append("text").attr("x", x(24.8)).attr("y", y(0.697)).attr("text-anchor", "middle").attr("font-size", 30).text("Normal Bt");
svg.append("text").attr("x", x(23.9)).attr("y", y(0.296)).attr("text-anchor", "middle").attr("font-size", 30).text("Average");
svg.append("text").attr("x", x(28.1)).attr("y", y(-0.15)).attr("text-anchor", "middle").attr("font-size", 30).text("Reversed Bt");
svg.append("text").attr("transform", `translate(620,${y(-0.12)}) rotate(-90)`).attr("text-anchor", "middle")
  .attr("font-size", 11).text("JG04.61-5c");

// legend
const legendItems = [
  {name: seriesNames[0], shape: "fdia", col: 0, row: 0},
  {name: seriesNames[1], shape: "odia", col: 0, row: 1},
  {name: seriesNames[2], shape: "ftri", col: 0, row: 2},
  {name: seriesNames[3], shape: "otri", col: 1, row: 0},
  {name: seriesNames[4], shape: "fcir", col: 1, row: 1},
  {name: seriesNames[5], shape: "osq", col: 1, row: 2}
];
const rowY = [19, 43, 65, 84];
const colMX = [22, 340], colTX = [36, 362];
const lg = svg.append("g");
legendItems.forEach(it => {
  const sh = shapes[it.shape];
  lg.append("path").attr("d", sh.d).attr("transform", `translate(${colMX[it.col]},${rowY[it.row]}) scale(0.75)`)
    .attr("fill", sh.fill).attr("stroke", sh.stroke).attr("stroke-width", 1.4);
  lg.append("text").attr("x", colTX[it.col]).attr("y", rowY[it.row] + 6.3).attr("font-size", 17.5).text(it.name);
});
lg.append("line").attr("x1", 326).attr("x2", 356).attr("y1", rowY[3]).attr("y2", rowY[3]).attr("stroke", AVG).attr("stroke-width", 1.5);
lg.append("path").attr("d", diamondPath(4)).attr("transform", `translate(341,${rowY[3]})`).attr("fill", AVG);
lg.append("text").attr("x", 362).attr("y", rowY[3] + 6.3).attr("font-size", 17.5).text(seriesNames[6]);
</script></body></html>
